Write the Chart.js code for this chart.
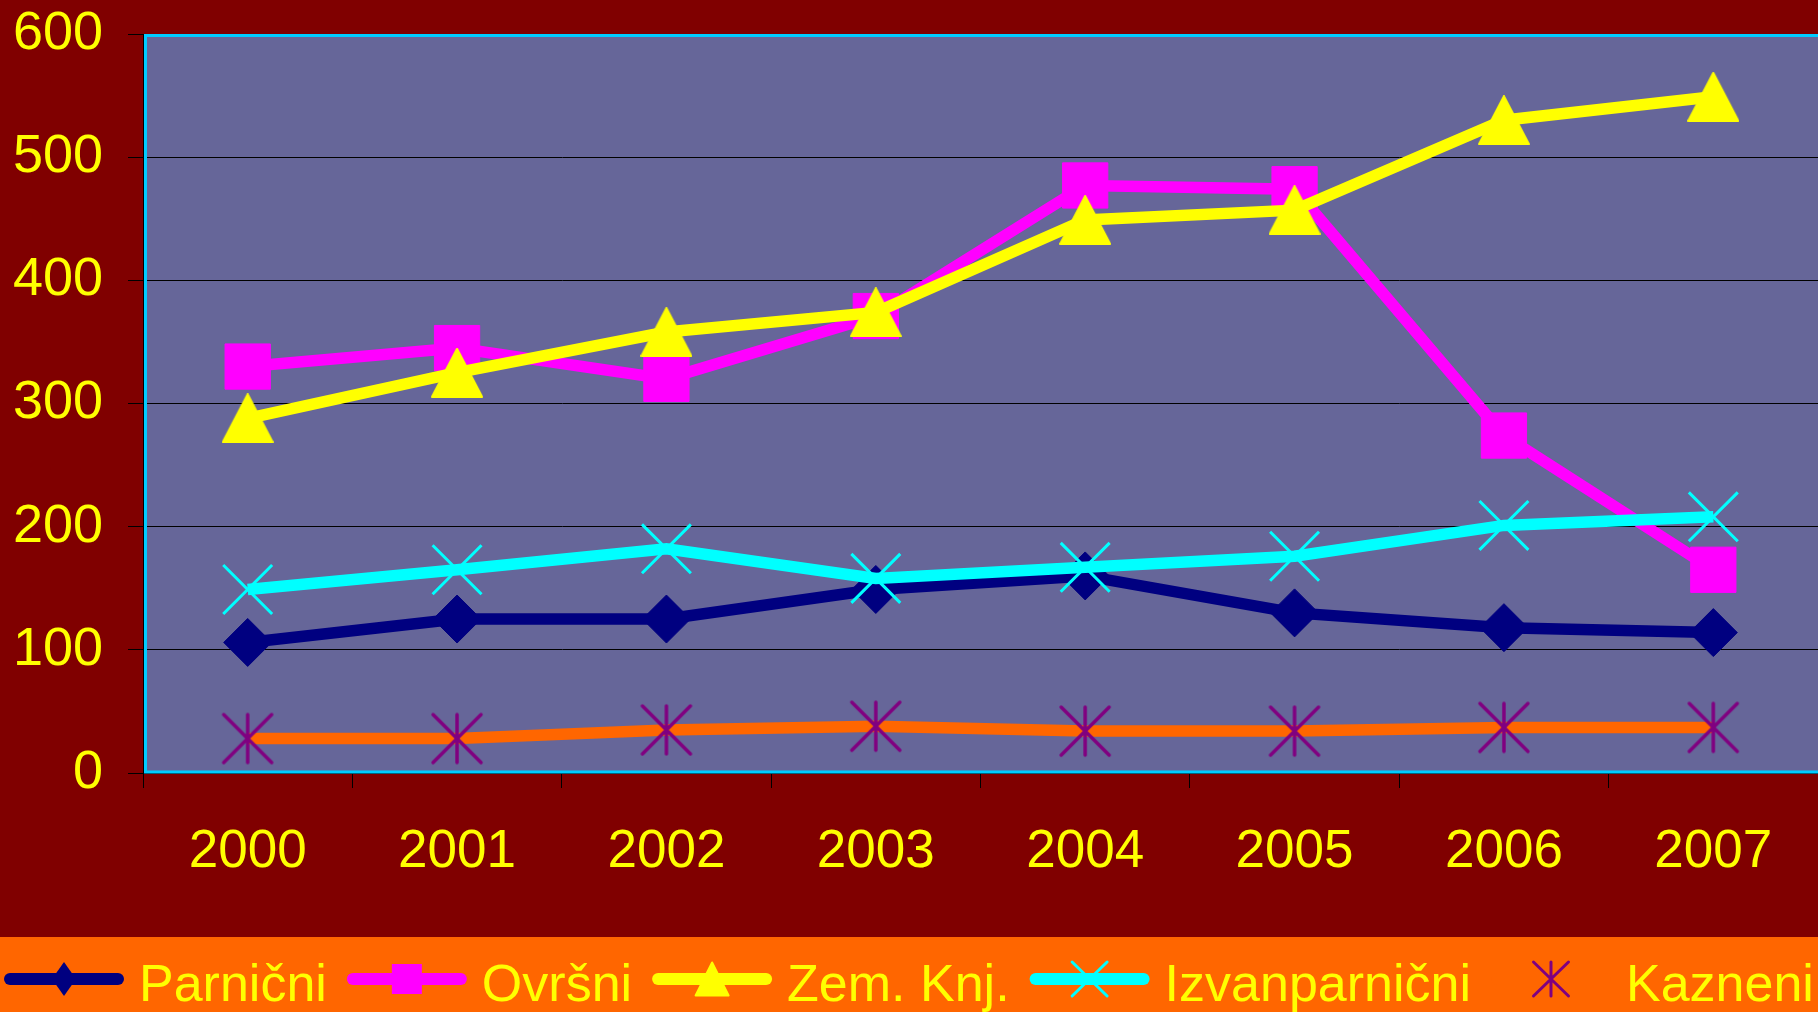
<!DOCTYPE html>
<html>
<head>
<meta charset="utf-8">
<script src="https://cdn.jsdelivr.net/npm/chart.js@4.4.1/dist/chart.umd.min.js"></script>
<style>
  html, body { margin: 0; padding: 0; background: #800000; }
  #wrap { width: 1818px; height: 1012px; position: relative; }
  canvas { display: block; }
</style>
</head>
<body>
<div id="wrap"><canvas id="c" width="1818" height="1012"></canvas></div>
<script>
// ---- data ----
const years = ['2000', '2001', '2002', '2003', '2004', '2005', '2006', '2007'];
const parnicni = [106, 125, 125, 149, 160, 130, 118, 114];
const ovrsni = [330, 345, 320, 371, 477, 474, 274, 165];
const zemKnj = [288, 325, 358, 374, 449, 457, 530, 549];
const izvanparnicni = [149, 165, 182, 158, 167, 176, 201, 208];
const kazneni = [28, 28, 35, 38, 34, 34, 37, 37];
const seriesNames = ['Parnični', 'Ovršni', 'Zem. Knj.', 'Izvanparnični', 'Kazneni'];
const yMin = 0, yMax = 600, yStep = 100;

// ---- styling ----
const FONT = '"Liberation Sans", Arial, sans-serif';
const NAVY = '#000080', MAGENTA = '#FF00FF', YELLOW = '#FFFF00', CYAN = '#00FFFF', ORANGE = '#FF6600', PURPLE = '#800080';
const markerKinds = ['diamond', 'square', 'triangle', 'x', 'asterisk'];
const markerColors = [NAVY, MAGENTA, YELLOW, CYAN, PURPLE];
const lineColors = [NAVY, MAGENTA, YELLOW, CYAN, ORANGE];

function makeTriangle(w, h, color) {
  const c = document.createElement('canvas');
  c.width = w + 2; c.height = h + 2;
  const g = c.getContext('2d');
  g.fillStyle = color; g.strokeStyle = color; g.lineWidth = 2; g.lineJoin = 'round';
  g.beginPath();
  g.moveTo(c.width / 2, 1);
  g.lineTo(c.width - 1, c.height - 1);
  g.lineTo(1, c.height - 1);
  g.closePath(); g.fill(); g.stroke();
  return c;
}
function makeAsterisk(s, color, lw) {
  const c = document.createElement('canvas');
  c.width = s + 6; c.height = s + 6;
  const g = c.getContext('2d');
  const m = c.width / 2, r = s / 2;
  g.strokeStyle = color; g.lineWidth = lw; g.lineCap = 'round';
  g.beginPath();
  g.moveTo(m, m - r); g.lineTo(m, m + r);
  g.moveTo(m - r, m - r); g.lineTo(m + r, m + r);
  g.moveTo(m + r, m - r); g.lineTo(m - r, m + r);
  g.stroke();
  return c;
}
const triImg = makeTriangle(50, 48, YELLOW);
const astImg = makeAsterisk(48, PURPLE, 3.5);

function drawMarker(ctx, kind, x, y, color, w, h) {
  ctx.save();
  ctx.fillStyle = color; ctx.strokeStyle = color;
  ctx.beginPath();
  if (kind === 'diamond') {
    ctx.moveTo(x, y - h / 2); ctx.lineTo(x + w / 2, y); ctx.lineTo(x, y + h / 2); ctx.lineTo(x - w / 2, y); ctx.closePath(); ctx.fill();
  } else if (kind === 'square') {
    ctx.rect(x - w / 2, y - h / 2, w, h); ctx.fill();
  } else if (kind === 'triangle') {
    ctx.lineJoin = 'round'; ctx.lineWidth = 2;
    ctx.moveTo(x, y - h / 2); ctx.lineTo(x + w / 2, y + h / 2); ctx.lineTo(x - w / 2, y + h / 2); ctx.closePath(); ctx.fill(); ctx.stroke();
  } else if (kind === 'x') {
    ctx.lineWidth = 3; ctx.lineCap = 'round';
    ctx.moveTo(x - w / 2, y - h / 2); ctx.lineTo(x + w / 2, y + h / 2);
    ctx.moveTo(x + w / 2, y - h / 2); ctx.lineTo(x - w / 2, y + h / 2); ctx.stroke();
  } else if (kind === 'asterisk') {
    ctx.lineWidth = 3; ctx.lineCap = 'round';
    ctx.moveTo(x, y - h / 2); ctx.lineTo(x, y + h / 2);
    ctx.moveTo(x - w / 2, y - h / 2); ctx.lineTo(x + w / 2, y + h / 2);
    ctx.moveTo(x + w / 2, y - h / 2); ctx.lineTo(x - w / 2, y + h / 2); ctx.stroke();
  }
  ctx.restore();
}

const legendMarkerSize = { diamond: [24, 34], square: [30, 30], triangle: [33, 33], x: [35, 34], asterisk: [35, 34] };

const decorPlugin = {
  id: 'decor',
  beforeDraw(chart) {
    const { ctx, chartArea: a } = chart;
    ctx.save();
    ctx.fillStyle = '#666699';
    ctx.fillRect(a.left, a.top, a.right - a.left, a.bottom - a.top);
    ctx.fillStyle = ORANGE;
    ctx.fillRect(0, 937, chart.width, chart.height - 937);
    ctx.restore();
  },
  beforeDatasetsDraw(chart) {
    const { ctx, chartArea: a } = chart;
    ctx.save();
    ctx.strokeStyle = '#00CCFF';
    ctx.lineWidth = 3;
    ctx.strokeRect(a.left + 2.5, a.top + 1.5, a.right - a.left + 20, a.bottom - a.top - 2.5);
    ctx.restore();
  },
  afterDraw(chart) {
    const ctx = chart.ctx;
    ctx.save();
    ctx.font = '52px ' + FONT;
    ctx.textBaseline = 'alphabetic';
    ctx.textAlign = 'left';
    let x = 4;
    const cy = 979, baseline = 1001;
    chart.data.datasets.forEach((ds, i) => {
      ctx.strokeStyle = lineColors[i];
      ctx.lineWidth = 12; ctx.lineCap = 'round';
      ctx.beginPath(); ctx.moveTo(x + 6, cy); ctx.lineTo(x + 114, cy); ctx.stroke();
      const k = markerKinds[i];
      const [mw, mh] = legendMarkerSize[k];
      drawMarker(ctx, k, x + 60, cy, markerColors[i], mw, mh);
      x += 120 + 15;
      ctx.fillStyle = YELLOW;
      ctx.fillText(ds.label, x, baseline);
      x += ctx.measureText(ds.label).width + 20;
    });
    ctx.restore();
  }
};

const allSeries = [parnicni, ovrsni, zemKnj, izvanparnicni, kazneni];
const pointStyles = ['rectRot', 'rect', triImg, 'crossRot', astImg];
const pointRadii = [24, 32, 25, 34.6, 27];
const pointBorderWidths = [1, 1, 0, 3, 0];

const datasets = allSeries.map((data, i) => ({
  label: seriesNames[i],
  data: data,
  borderColor: lineColors[i],
  backgroundColor: markerColors[i],
  borderWidth: 11.5,
  borderJoinStyle: 'miter',
  borderCapStyle: 'butt',
  tension: 0,
  fill: false,
  pointStyle: pointStyles[i],
  pointRadius: pointRadii[i],
  pointHoverRadius: pointRadii[i],
  pointBackgroundColor: markerColors[i],
  pointBorderColor: markerColors[i],
  pointBorderWidth: pointBorderWidths[i],
  order: 5 - i
}));

new Chart(document.getElementById('c'), {
  type: 'line',
  data: { labels: years, datasets: datasets },
  options: {
    responsive: false,
    animation: false,
    devicePixelRatio: 1,
    layout: { autoPadding: false, padding: { top: 34, right: 0, bottom: 0, left: 0 } },
    plugins: { legend: { display: false }, tooltip: { enabled: false } },
    scales: {
      x: {
        type: 'category',
        offset: true,
        grid: { offset: true, drawOnChartArea: false, color: '#000000', tickLength: 15, lineWidth: 1 },
        border: { color: '#000000', width: 1 },
        ticks: { color: YELLOW, font: { family: FONT, size: 53 }, padding: 33, maxRotation: 0, autoSkip: false },
        afterFit(s) { s.height = 239; s.paddingLeft = 0; s.paddingRight = 0; }
      },
      y: {
        min: yMin, max: yMax,
        grid: { color: '#000000', tickLength: 15, lineWidth: 1 },
        border: { color: '#000000', width: 1 },
        ticks: { stepSize: yStep, color: YELLOW, font: { family: FONT, size: 54 }, padding: 25 },
        afterFit(s) { s.width = 143; s.paddingTop = 0; s.paddingBottom = 0; }
      }
    }
  },
  plugins: [decorPlugin]
});
</script>
</body>
</html>
